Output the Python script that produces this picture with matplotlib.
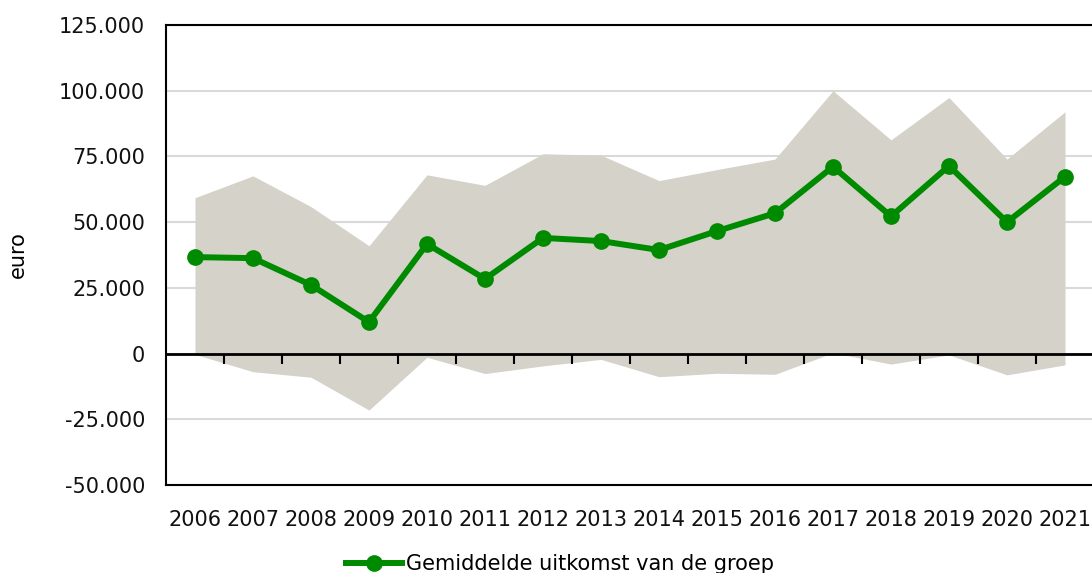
import numpy as np
import matplotlib
matplotlib.use("Agg")
import matplotlib.pyplot as plt
from matplotlib.ticker import FuncFormatter

years = ["2006", "2007", "2008", "2009", "2010", "2011", "2012", "2013",
         "2014", "2015", "2016", "2017", "2018", "2019", "2020", "2021"]
mean_vals = [36700, 36300, 26100, 12000, 41700, 28400, 44000, 42800,
             39400, 46600, 53400, 71100, 52200, 71400, 50000, 67300]
upper_vals = [59300, 67600, 55900, 41000, 68000, 64000, 76000, 75500,
              65800, 70000, 74000, 100000, 81300, 97400, 74000, 92000]
lower_vals = [-300, -6900, -9000, -21500, -1400, -7600, -4700, -2200,
              -8800, -7500, -7900, 300, -4000, -500, -8100, -4300]
y_ticks = [-50000, -25000, 0, 25000, 50000, 75000, 100000, 125000]

plt.rcParams['font.family'] = ['DejaVu Sans']
plt.rcParams['font.size'] = 15

W, H = 1092, 573
fig = plt.figure(figsize=(W / 100, H / 100), dpi=100)
ax = fig.add_axes([166 / W, (H - 485) / H, (1094 - 166) / W, 460 / H])

x = np.arange(len(years))
ax.fill_between(x, lower_vals, upper_vals, color="#d4d2c9", lw=0, zorder=1)
ax.plot(x, mean_vals, color="#008a00", lw=4.3, marker="o", markersize=11,
        label="Gemiddelde uitkomst van de groep", zorder=6)

ymin, ymax = -50000, 125000
ax.set_ylim(ymin, ymax)
ax.set_xlim(-0.5, len(years) - 0.5)
ax.set_yticks(y_ticks)
ax.yaxis.set_major_formatter(FuncFormatter(lambda v, p: f"{int(v):,}".replace(",", ".")))
ax.yaxis.grid(True, color="#d9d9d9", lw=1.5, zorder=0)
ax.set_axisbelow(True)
ax.tick_params(axis="y", length=0, pad=15, colors="#111111")

ax.set_xticks(x)
ax.set_xticklabels(years)
ax.tick_params(axis="x", length=0, pad=18, colors="#111111")

for s in ["left", "top", "bottom"]:
    ax.spines[s].set_linewidth(1.5)
    ax.spines[s].set_color("black")
ax.spines["right"].set_visible(False)

zero_pos = (0 - ymin) / (ymax - ymin)
sec = ax.secondary_xaxis(zero_pos)
sec.set_xticks(np.arange(0.5, len(years) - 1, 1), labels=[""] * (len(years) - 1))
sec.tick_params(axis="x", direction="out", length=7, width=1.5,
                bottom=True, top=False, labelbottom=False, labeltop=False)
sec.spines["bottom"].set_linewidth(2)
sec.set_zorder(5)

ax.set_ylabel("euro")
ax.yaxis.set_label_coords(-138 / 928, 0.5)

fig.legend(loc="center", bbox_to_anchor=(0.513, 0.016), frameon=False,
           handlelength=2.7, handletextpad=0.2, fontsize=15)

fig.savefig("out.png", dpi=100)
